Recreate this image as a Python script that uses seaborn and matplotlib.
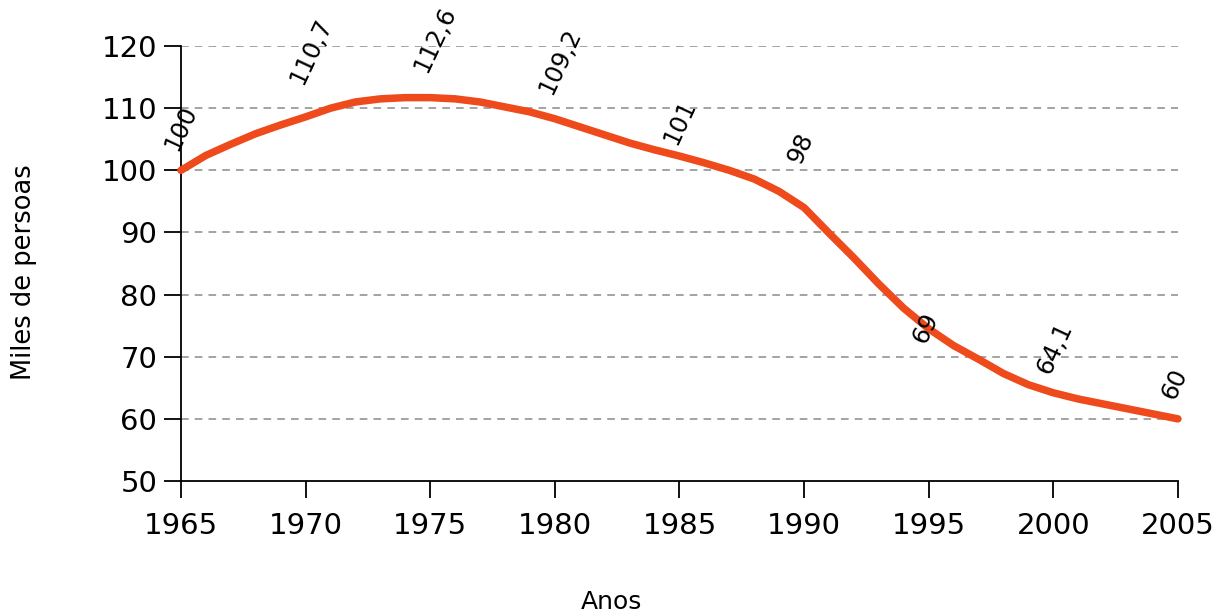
import matplotlib
matplotlib.use("Agg")
import matplotlib.pyplot as plt
import seaborn as sns
import pandas as pd

# Line data
years = [1965, 1966, 1967, 1968, 1969, 1970, 1971, 1972, 1973, 1974, 1975,
         1976, 1977, 1978, 1979, 1980, 1981, 1982, 1983, 1984, 1985,
         1986, 1987, 1988, 1989, 1990, 1991, 1992, 1993, 1994, 1995,
         1996, 1997, 1998, 1999, 2000, 2001, 2002, 2003, 2004, 2005]
persons = [100.0, 102.4, 104.2, 105.9, 107.3, 108.6, 110.0, 111.0, 111.5, 111.7, 111.7,
           111.5, 111.0, 110.2, 109.4, 108.3, 107.0, 105.7, 104.4, 103.3, 102.3,
           101.2, 100.0, 98.6, 96.6, 94.0, 89.9, 85.9, 81.7, 77.8, 74.5,
           71.8, 69.6, 67.3, 65.5, 64.2, 63.2, 62.4, 61.6, 60.8, 60.0]

# Annotated values
label_years = [1965, 1970, 1975, 1980, 1985, 1990, 1995, 2000, 2005]
label_values = [100, 110.7, 112.6, 109.2, 101, 98, 69, 64.1, 60]
label_texts = ["100", "110,7", "112,6", "109,2", "101", "98", "69", "64,1", "60"]

x_ticks = [1965, 1970, 1975, 1980, 1985, 1990, 1995, 2000, 2005]
y_ticks = [50, 60, 70, 80, 90, 100, 110, 120]

sns.set_style("white")
plt.rcParams['font.family'] = ['DejaVu Sans']

fig = plt.figure(figsize=(12.27, 6.14), dpi=100)
ax = fig.add_axes([0.1475, 0.2166, 0.8125, 0.7084])

df = pd.DataFrame({"Anos": years, "Miles": persons})
sns.lineplot(data=df, x="Anos", y="Miles", ax=ax, color="#EE4A1B",
             linewidth=5.4, clip_on=False, zorder=3,
             solid_joinstyle="round", solid_capstyle="round")

for yr, v, t in zip(label_years, label_values, label_texts):
    ax.annotate(t, xy=(yr, v), xytext=(-7, 15), textcoords="offset points",
                rotation=65, rotation_mode="anchor", ha="left", va="center",
                fontsize=17.5, color="black", zorder=4, annotation_clip=False)

ax.set_xlim(1965, 2005)
ax.set_ylim(50, 120)
ax.set_xticks(x_ticks)
ax.set_yticks(y_ticks)
ax.tick_params(axis="both", direction="out", length=12, width=1.3,
               colors="black", labelsize=21, bottom=True, left=True)
ax.tick_params(axis="x", pad=10)
ax.tick_params(axis="y", pad=5)

for yv in y_ticks[1:]:
    ax.axhline(yv, color="#8a8a8a", linewidth=1.1, linestyle=(0, (5, 4)), zorder=1)

for side in ["top", "right"]:
    ax.spines[side].set_visible(False)
for side in ["left", "bottom"]:
    ax.spines[side].set_color("black")
    ax.spines[side].set_linewidth(1.3)

ax.set_xlabel("Anos", fontsize=18, color="black")
ax.set_ylabel("Miles de persoas", fontsize=18.5, color="black")
ax.xaxis.set_label_coords(0.432, -0.25)
ax.yaxis.set_label_coords(-0.144, 0.48)

fig.savefig("out.png", dpi=100, facecolor="white")
